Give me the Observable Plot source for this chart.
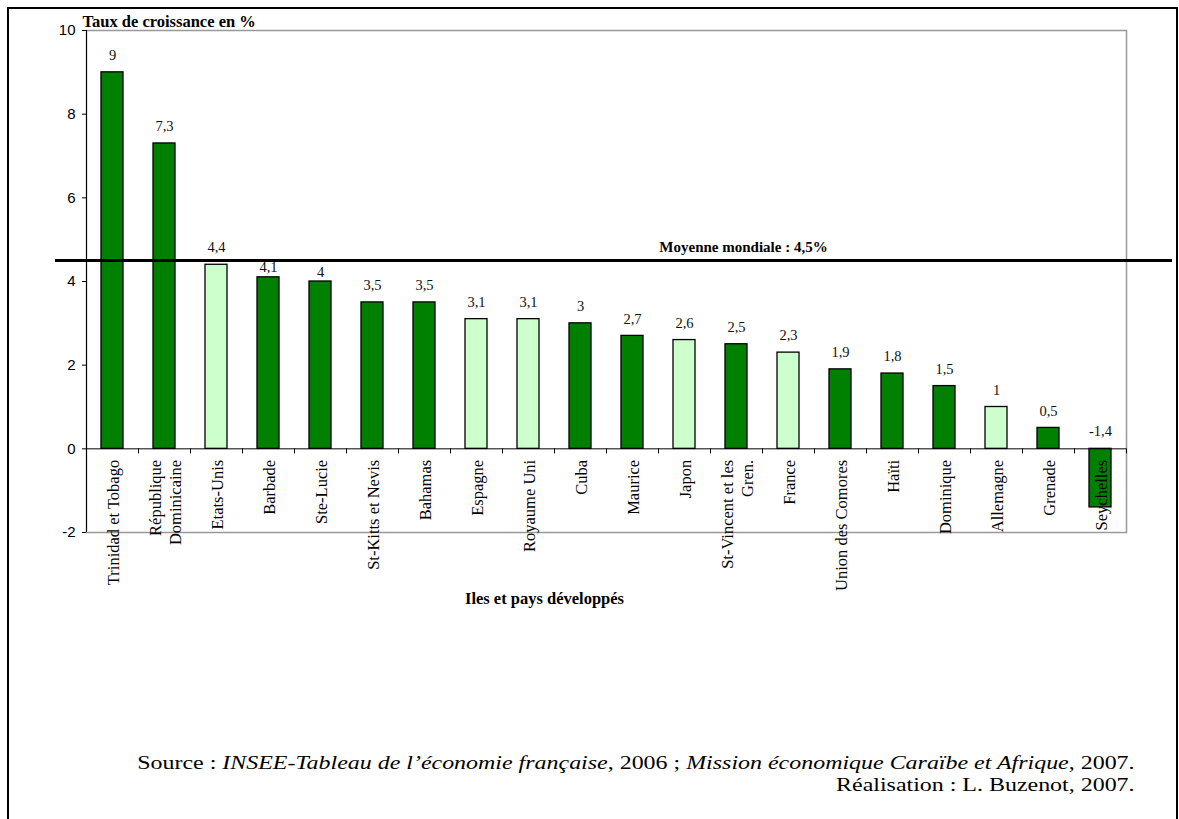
<!DOCTYPE html>
<html>
<head>
<meta charset="utf-8">
<script src="https://cdn.jsdelivr.net/npm/d3@7"></script>
<script src="https://cdn.jsdelivr.net/npm/@observablehq/plot@0.6"></script>
<style>
  html, body { margin: 0; padding: 0; background: #fff; }
  #wrap { position: relative; width: 1179px; height: 819px; overflow: hidden; }
  #border { position: absolute; left: 7px; top: 7px; width: 1171px; height: 900px; box-sizing: border-box; border: 2px solid #000; pointer-events: none; }
  #caption { position: absolute; right: 44px; top: 752px; text-align: right; font-family: "Liberation Serif", "Times New Roman", serif; font-size: 19px; line-height: 22px; color: #000; transform: scaleX(1.26); transform-origin: right top; white-space: nowrap; }
  #chart { position: absolute; left: 0; top: 0; }
</style>
</head>
<body>
<div id="wrap">
  <div id="chart"></div>
  <div id="caption">
    <div>Source : <i>INSEE-Tableau de l’économie française</i>, 2006 ; <i>Mission économique Caraïbe et Afrique</i>, 2007.</div>
    <div>Réalisation : L. Buzenot, 2007.</div>
  </div>
  <div id="border"></div>
</div>
<script>
const names = ["Trinidad et Tobago", "République\nDominicaine", "Etats-Unis", "Barbade", "Ste-Lucie", "St-Kitts et Nevis", "Bahamas", "Espagne", "Royaume Uni", "Cuba", "Maurice", "Japon", "St-Vincent et les\nGren.", "France", "Union des Comores", "Haïti", "Dominique", "Allemagne", "Grenade", "Seychelles"];
const values = [9, 7.3, 4.4, 4.1, 4, 3.5, 3.5, 3.1, 3.1, 3, 2.7, 2.6, 2.5, 2.3, 1.9, 1.8, 1.5, 1, 0.5, -1.4];
const groups = ["ile", "ile", "dev", "ile", "ile", "ile", "ile", "dev", "dev", "ile", "ile", "dev", "ile", "dev", "ile", "ile", "ile", "dev", "ile", "ile"];
const yTicks = [-2, 0, 2, 4, 6, 8, 10];
const worldMean = 4.5;
const meanLabel = "Moyenne mondiale : 4,5%";
const yTitle = "Taux de croissance en %";
const xTitle = "Iles et pays développés";

const data = names.map((n, i) => ({name: n, value: values[i], group: groups[i]}));
const fmt = v => String(v).replace(".", ",");
// labels whose normal position would sit on the mean line are tucked closer to their bar
const nearMean = d => d.value > worldMean - 0.6 && d.value < worldMean - 0.2;

const W = 1179, H = 752, ML = 86, MR = 53, MT = 30, MB = 220;
const step = (W - ML - MR) / names.length;
const serif = "Liberation Serif, Times New Roman, serif";

const chart = Plot.plot({
  width: W, height: H,
  marginLeft: ML, marginRight: MR, marginTop: MT, marginBottom: MB,
  style: {fontFamily: serif, color: "#000", background: "transparent", overflow: "visible"},
  x: {domain: names, paddingInner: 0.58, paddingOuter: 0.29, axis: null},
  y: {domain: [-2, 10], axis: null},
  color: {domain: ["ile", "dev"], range: ["#008000", "#ccffcc"]},
  marks: [
    Plot.frame({stroke: "#999", strokeWidth: 1.5}),
    Plot.ruleX([names[0]], {dx: -step / 2, stroke: "#000", strokeWidth: 1}),
    Plot.axisY({ticks: yTicks, tickSize: 4, tickPadding: 7, fontSize: 15, fontFamily: "Liberation Sans, Arial, sans-serif", label: null, tickFormat: d => String(d)}),
    Plot.barY(data, {x: "name", y: "value", fill: "group", stroke: "#000", strokeWidth: 1.3}),
    Plot.ruleY([0], {stroke: "#000", strokeWidth: 1}),
    Plot.ruleX(names, {x: d => d, y1: 0, y2: -0.12, dx: step / 2, stroke: "#000"}),
    Plot.text(data.filter(d => !nearMean(d)), {x: "name", y: d => Math.max(d.value, 0), text: d => fmt(d.value), dy: -17, fontSize: 14.5, fill: "#111"}),
    Plot.text(data.filter(nearMean), {x: "name", y: "value", text: d => fmt(d.value), dy: -9.5, fontSize: 14.5, fill: "#111"}),
    Plot.text(data, {x: "name", y: () => 0, text: "name", rotate: -90, textAnchor: "end", lineAnchor: "middle", lineHeight: 1.2, dy: 11, fontSize: 16.5, fill: "#000"}),
    Plot.ruleY([worldMean], {stroke: "#000", strokeWidth: 3, insetLeft: -31, insetRight: -46}),
    Plot.text([meanLabel], {x: () => names[12], y: () => worldMean, text: d => d, dx: 7, dy: -13, fontSize: 15, fontWeight: "bold"}),
    Plot.text([yTitle], {frameAnchor: "top-left", text: d => d, textAnchor: "start", lineAnchor: "middle", dx: -4, dy: -9, fontSize: 16.5, fontWeight: "bold"}),
    Plot.text([xTitle], {frameAnchor: "bottom", text: d => d, lineAnchor: "middle", dx: -62, dy: 66, fontSize: 16.5, fontWeight: "bold"})
  ]
});
document.getElementById("chart").appendChild(chart);
</script>
</body>
</html>
